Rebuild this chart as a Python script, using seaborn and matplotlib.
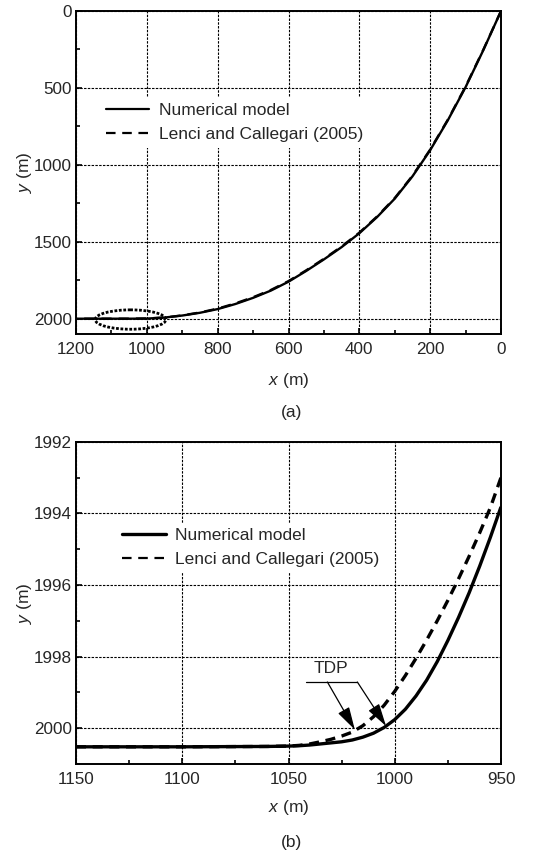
import numpy as np
import pandas as pd
import matplotlib
matplotlib.use("Agg")
import matplotlib.pyplot as plt
from matplotlib.patches import Ellipse
from matplotlib.ticker import MultipleLocator
import seaborn as sns

# ---------------- data ----------------
# Panel (a): full profile
top_x = [0, 50, 100, 150, 200, 250, 300, 350, 400, 450, 500, 550, 600, 650,
         700, 750, 800, 850, 900, 950, 1000, 1050, 1100, 1150, 1200]
top_num_y = [0, 255, 495, 710, 905, 1075, 1220, 1340, 1445, 1535, 1615, 1690,
             1760, 1818, 1865, 1905, 1938, 1962, 1980, 1993, 1999.8, 2000.5,
             2000.5, 2000.5, 2000.5]
top_lenci_y = [0, 252, 491, 706, 901, 1071, 1216, 1336, 1441, 1531, 1611, 1686,
               1756, 1814, 1861, 1901, 1935, 1960, 1979, 1993.1, 1999.0, 2000.5,
               2000.5, 2000.5, 2000.5]

# Panel (b): zoom near touchdown point
bot_x = [1150, 1100, 1060, 1050, 1045, 1040, 1035, 1030, 1025, 1020, 1015, 1010,
         1005, 1000, 995, 990, 985, 980, 975, 970, 965, 960, 955, 950]
bot_num_y = [2000.52, 2000.52, 2000.51, 2000.50, 2000.49, 2000.47, 2000.44,
             2000.41, 2000.38, 2000.33, 2000.25, 2000.14, 1999.98, 1999.76,
             1999.47, 1999.10, 1998.66, 1998.14, 1997.55, 1996.91, 1996.22,
             1995.47, 1994.67, 1993.82]
bot_lenci_y = [2000.52, 2000.52, 2000.51, 2000.50, 2000.48, 2000.44, 2000.38,
               2000.31, 2000.22, 2000.11, 1999.93, 1999.68, 1999.36, 1998.97,
               1998.53, 1998.05, 1997.54, 1997.00, 1996.43, 1995.83, 1995.20,
               1994.54, 1993.84, 1993.00]

series_names = ["Numerical model", "Lenci and Callegari (2005)"]
top_xticks = [1200, 1000, 800, 600, 400, 200, 0]
top_yticks = [0, 500, 1000, 1500, 2000]
bot_xticks = [1150, 1100, 1050, 1000, 950]
bot_yticks = [1992, 1994, 1996, 1998, 2000]

# ---------------- style ----------------
sns.set_style("ticks")
plt.rcParams["font.family"] = ["Liberation Sans", "DejaVu Sans"]
plt.rcParams["mathtext.fontset"] = "custom"
plt.rcParams["mathtext.it"] = "Liberation Sans:italic"
plt.rcParams["mathtext.rm"] = "Liberation Sans"

fig = plt.figure(figsize=(5.4, 8.56), dpi=100)
W, H = 540, 856
ax1 = fig.add_axes([76 / W, 1 - 334 / H, 425 / W, 323 / H])
ax2 = fig.add_axes([76 / W, 1 - 764 / H, 425 / W, 322.3 / H])

df_top = pd.DataFrame({
    "x": top_x * 2,
    "y": top_num_y + top_lenci_y,
    "series": [series_names[0]] * len(top_x) + [series_names[1]] * len(top_x),
})
df_bot = pd.DataFrame({
    "x": bot_x * 2,
    "y": bot_num_y + bot_lenci_y,
    "series": [series_names[0]] * len(bot_x) + [series_names[1]] * len(bot_x),
})

grid_style = dict(color="black", linewidth=0.8, linestyle=(0, (2.2, 1.2)))


def style_axes(ax, xlim, ylim, xticks, yticks, xminor, yminor, xlabelpad):
    ax.set_xlim(*xlim)
    ax.set_ylim(*ylim)
    ax.set_xticks(xticks)
    ax.set_yticks(yticks)
    ax.xaxis.set_minor_locator(MultipleLocator(xminor))
    ax.yaxis.set_minor_locator(MultipleLocator(yminor))
    ax.set_xticklabels([str(t) for t in xticks])
    ax.set_yticklabels([str(t) for t in yticks])
    ax.tick_params(which="both", direction="in", top=False, right=False,
                   width=1.2, labelsize=12.3, color="black")
    ax.tick_params(which="major", length=4, pad=6)
    ax.tick_params(axis="y", which="major", pad=3)
    ax.tick_params(which="minor", length=3)
    for s in ax.spines.values():
        s.set_linewidth(1.4)
        s.set_color("black")
        s.set_visible(True)
    ax.grid(True, which="major", **grid_style)
    ax.set_axisbelow(True)
    ax.set_xlabel(r"$\it{x}$ (m)", fontsize=12.5, labelpad=xlabelpad)
    ax.set_ylabel(r"$\it{y}$ (m)", fontsize=12.5, labelpad=0)


# ---------------- panel (a) ----------------
sns.lineplot(data=df_top, x="x", y="y", style="series", hue="series",
             palette=["black", "black"], dashes=[(1, 0), (4.3, 3)],
             sort=False, estimator=None, linewidth=1.7, ax=ax1, legend=False)
style_axes(ax1, (1200, 0), (2100, 0), top_xticks, top_yticks, 100, 250, 10)
ax1.add_patch(Ellipse((1046, 2006), 200, 126, fill=False, edgecolor="black",
                      linestyle=(0, (1, 0.6)), linewidth=2.0, zorder=4))
h1 = [plt.Line2D([], [], color="black", lw=1.6),
      plt.Line2D([], [], color="black", lw=1.6, dashes=(4.3, 3))]
leg1 = ax1.legend(h1, series_names, loc="upper left", bbox_to_anchor=(0.058, 0.733),
                  frameon=True, framealpha=1, edgecolor="none", facecolor="white",
                  fontsize=12.5, handlelength=2.5, handletextpad=0.55,
                  labelspacing=0.55, borderpad=0.3, borderaxespad=0)
leg1.get_frame().set_linewidth(0)

# ---------------- panel (b) ----------------
sns.lineplot(data=df_bot, x="x", y="y", style="series", hue="series",
             palette=["black", "black"], dashes=[(1, 0), (3, 2)],
             sort=False, estimator=None, linewidth=2.4, ax=ax2, legend=False)
style_axes(ax2, (1150, 950), (2001, 1992), bot_xticks, bot_yticks, 25, 1, 8)
h2 = [plt.Line2D([], [], color="black", lw=2.4),
      plt.Line2D([], [], color="black", lw=1.6, dashes=(4.3, 3))]
leg2 = ax2.legend(h2, series_names, loc="upper left", bbox_to_anchor=(0.097, 0.749),
                  frameon=True, framealpha=1, edgecolor="none", facecolor="white",
                  fontsize=12.5, handlelength=2.5, handletextpad=0.5,
                  labelspacing=0.5, borderpad=0.3, borderaxespad=0)
leg2.get_frame().set_linewidth(0)

# TDP annotation
ax2.plot([1041.6, 1017.6], [1998.71, 1998.71], color="black", lw=0.9, zorder=5)
ax2.text(1029.8, 1998.32, "TDP", ha="center", va="center", fontsize=12.5)
arrow_kw = dict(arrowstyle="-|>,head_length=1.0,head_width=0.28", color="black",
                lw=0.9, shrinkA=0, shrinkB=0, mutation_scale=14)
ax2.annotate("", xy=(1018.8, 2000.04), xytext=(1031.7, 1998.71),
             arrowprops=arrow_kw, zorder=6)
ax2.annotate("", xy=(1004.1, 1999.94), xytext=(1017.6, 1998.71),
             arrowprops=arrow_kw, zorder=6)

# panel labels
fig.text(292 / W, 1 - 413 / H, "(a)", ha="center", va="center", fontsize=12.5)
fig.text(292 / W, 1 - 843 / H, "(b)", ha="center", va="center", fontsize=12.5)

fig.savefig("out.png", dpi=100)
